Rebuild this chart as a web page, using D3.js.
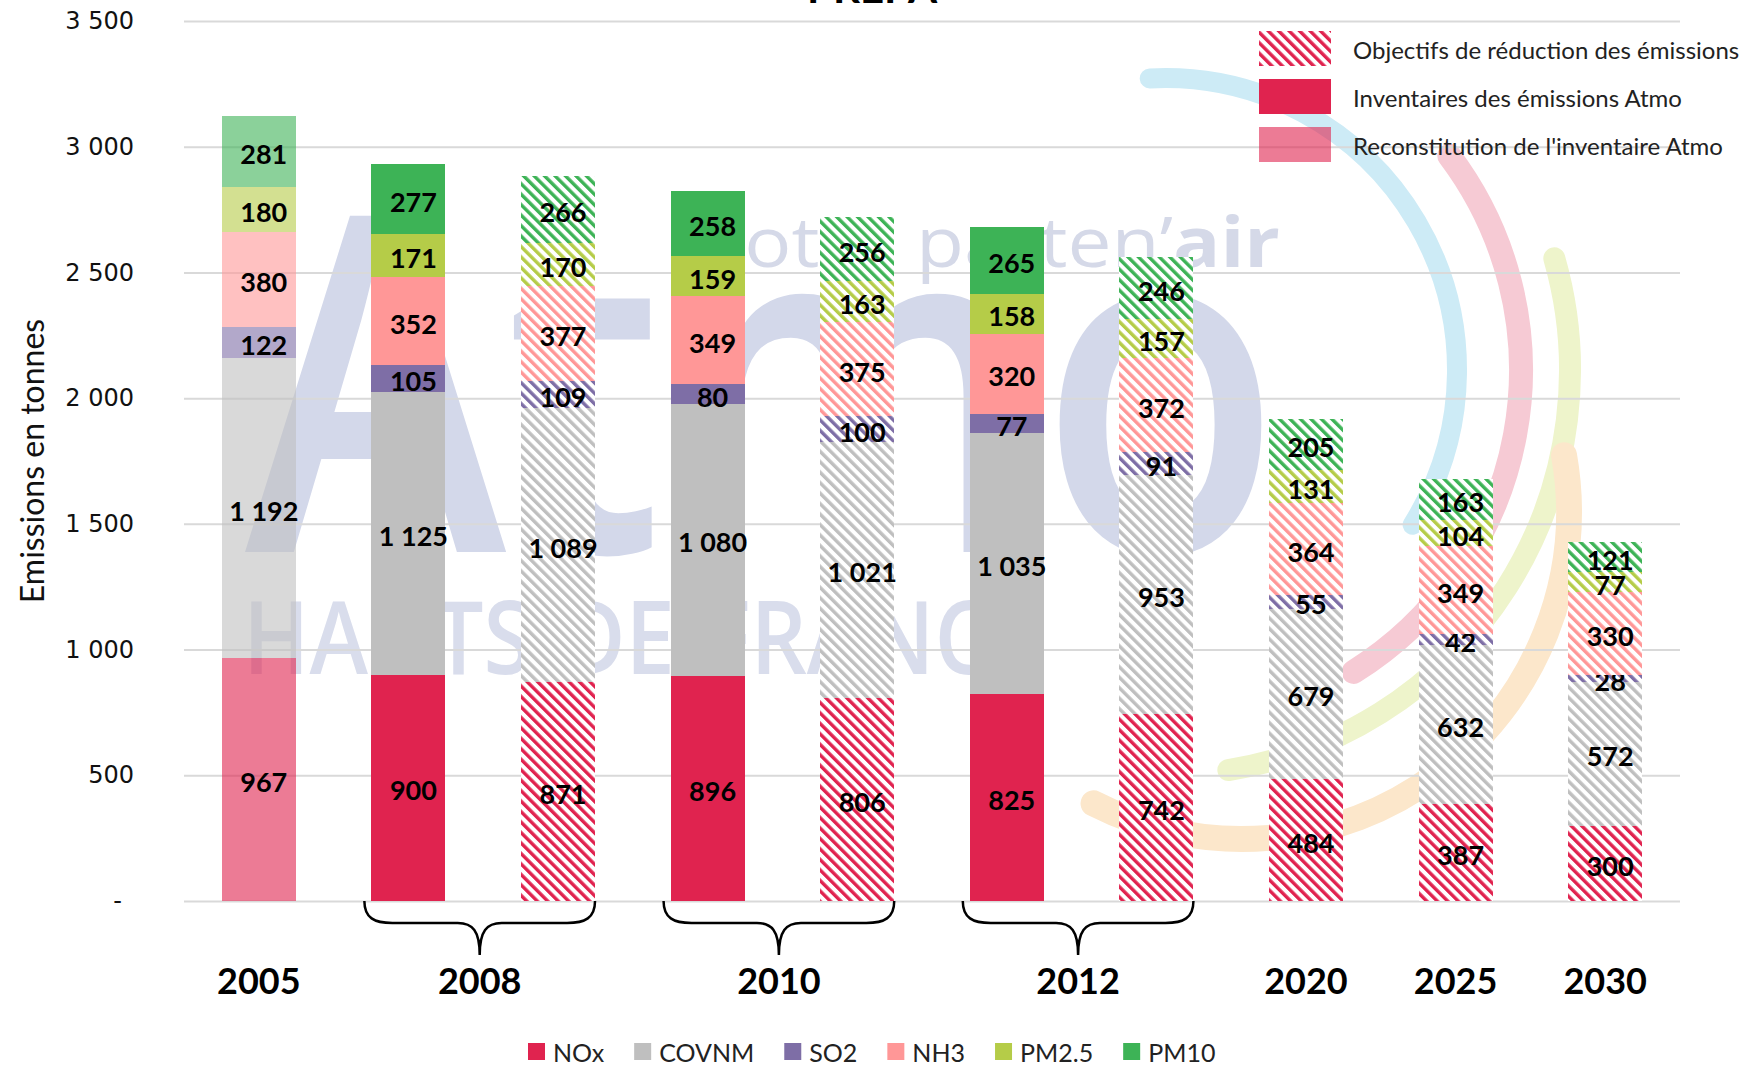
<!DOCTYPE html>
<html>
<head>
<meta charset="utf-8">
<script src="https://cdn.jsdelivr.net/npm/d3@7"></script>
<style>
  body { margin: 0; background: #fff; }
  svg { display: block; font-family: Lato, "Open Sans", sans-serif; }
</style>
</head>
<body>
<div id="chart"></div>
<script>
var width = 1747, height = 1067;
var margin = {top: 21, right: 67, bottom: 166, left: 184};

// polluants, bas -> haut de la pile
var pollutants = ["NOx", "COVNM", "SO2", "NH3", "PM2.5", "PM10"];
var colors = ["#e0234f", "#bfbfbf", "#7e6ea6", "#ff9797", "#b5cc48", "#3db356"];

// une barre par entrée : inventaire (inv), objectif (obj), reconstitution (recon)
var bars = ["2005", "2008 inv", "2008 obj", "2010 inv", "2010 obj", "2012 inv", "2012 obj", "2020", "2025", "2030"];
var barTypes = ["recon", "inv", "obj", "inv", "obj", "inv", "obj", "obj", "obj", "obj"];

var nox   = [967, 900, 871, 896, 806, 825, 742, 484, 387, 300];
var covnm = [1192, 1125, 1089, 1080, 1021, 1035, 953, 679, 632, 572];
var so2   = [122, 105, 109, 80, 100, 77, 91, 55, 42, 28];
var nh3   = [380, 352, 377, 349, 375, 320, 372, 364, 349, 330];
var pm25  = [180, 171, 170, 159, 163, 158, 157, 131, 104, 77];
var pm10  = [281, 277, 266, 258, 256, 265, 246, 205, 163, 121];

var years = ["2005", "2008", "2010", "2012", "2020", "2025", "2030"];
var yearBars = [["2005"], ["2008 inv", "2008 obj"], ["2010 inv", "2010 obj"], ["2012 inv", "2012 obj"], ["2020"], ["2025"], ["2030"]];

var yTicks = [0, 500, 1000, 1500, 2000, 2500, 3000, 3500];

var legendTypes = ["obj", "inv", "recon"];
var legendLabels = ["Objectifs de réduction des émissions", "Inventaires des émissions Atmo", "Reconstitution de l'inventaire Atmo"];

var fr = d3.formatLocale({decimal: ",", thousands: " ", grouping: [3], currency: ["", " €"]});
var fmt = fr.format(",d");

var rows = bars.map(function(b, i) {
    return {bar: b, type: barTypes[i], "NOx": nox[i], "COVNM": covnm[i], "SO2": so2[i],
            "NH3": nh3[i], "PM2.5": pm25[i], "PM10": pm10[i]};
});
var series = d3.stack().keys(pollutants)(rows);

var svg = d3.select("#chart").append("svg")
    .attr("width", width)
    .attr("height", height);

var x = d3.scaleBand()
    .domain(bars)
    .range([margin.left, width - margin.right])
    .paddingInner(0.505)
    .paddingOuter(0.2525);

var y = d3.scaleLinear()
    .domain([0, 3500])
    .range([height - margin.bottom, margin.top]);

// motifs hachurés
var defs = svg.append("defs");
pollutants.forEach(function(p, i) {
    var pat = defs.append("pattern")
        .attr("id", "hatch" + i)
        .attr("patternUnits", "userSpaceOnUse")
        .attr("width", 7.4)
        .attr("height", 7.4)
        .attr("patternTransform", "rotate(-45)");
    pat.append("rect").attr("width", 7.4).attr("height", 7.4).attr("fill", "#fff");
    pat.append("rect").attr("width", 3.4).attr("height", 7.4).attr("fill", colors[i]);
});

// filigrane Atmo
var wm = svg.append("g").attr("class", "watermark");

function arcPath(cx, cy, r, a0, a1) {
    var p = d3.path();
    var rad = Math.PI / 180;
    p.arc(cx, cy, r, (a0 - 90) * rad, (a1 - 90) * rad);
    return p.toString();
}
var arcs = [
    {cx: 1165, cy: 370, r: 292, a0: -3, a1: 122, w: 20, c: "#cdebf6"},
    {cx: 1165, cy: 370, r: 356, a0: 53, a1: 148, w: 24, c: "#f6cad4"},
    {cx: 1165, cy: 370, r: 405, a0: 74, a1: 171, w: 22, c: "#eef4cb"},
    {cx: 1242, cy: 512, r: 327, a0: 80, a1: 207, w: 26, c: "#fce7cb"}
];
wm.selectAll("path")
    .data(arcs)
    .enter()
    .append("path")
        .attr("d", function(d) { return arcPath(d.cx, d.cy, d.r, d.a0, d.a1); })
        .attr("fill", "none")
        .attr("stroke", function(d) { return d.c; })
        .attr("stroke-width", function(d) { return d.w; })
        .attr("stroke-linecap", "round");

wm.append("text")
    .attr("x", 245)
    .attr("y", 552)
    .attr("textLength", 1036)
    .attr("lengthAdjust", "spacingAndGlyphs")
    .style("font-family", "'Open Sans'")
    .style("font-weight", 600)
    .style("font-size", "469px")
    .attr("fill", "#d3d8ea")
    .text("Atmo");

wm.append("text")
    .attr("x", 243)
    .attr("y", 674)
    .attr("textLength", 797)
    .attr("lengthAdjust", "spacingAndGlyphs")
    .style("font-family", "'Open Sans'")
    .style("font-weight", 600)
    .style("font-size", "101px")
    .attr("fill", "#d9ddec")
    .text("HAUTS-DE-FRANCE");

var vp = wm.append("text")
    .attr("x", 705)
    .attr("y", 267)
    .attr("textLength", 575)
    .attr("lengthAdjust", "spacingAndGlyphs")
    .style("font-family", "'Open Sans'")
    .style("font-size", "70px")
    .attr("fill", "#d5d9e8");
vp.append("tspan").text("votre parten\u2019");
vp.append("tspan").style("font-weight", 700).text("air");

// grille + axe y
var yAxis = svg.append("g")
    .attr("transform", "translate(" + margin.left + ",0)")
    .call(d3.axisLeft(y)
        .tickValues(yTicks)
        .tickSizeInner(-(width - margin.left - margin.right))
        .tickSizeOuter(0)
        .tickPadding(50)
        .tickFormat(function(d) { return d === 0 ? "-" : fmt(d); }));
yAxis.select(".domain").remove();
yAxis.selectAll(".tick line")
    .attr("stroke", "#d9d9d9")
    .attr("stroke-width", 2);
yAxis.selectAll(".tick text")
    .style("font-family", "'DejaVu Sans'")
    .style("font-size", "24px")
    .attr("fill", "#111")
    .attr("dx", function(d) { return d === 0 ? -12 : 0; });

svg.append("text")
    .attr("transform", "translate(31," + y(1750) + ") rotate(-90)")
    .style("text-anchor", "middle")
    .attr("dominant-baseline", "central")
    .style("font-size", "32px")
    .attr("fill", "#111")
    .text("Emissions en tonnes");

// titre (coupé en haut)
svg.append("text")
    .attr("x", 872)
    .attr("y", 3)
    .style("text-anchor", "middle")
    .style("font-size", "42px")
    .style("font-weight", 700)
    .text("PREPA");

// barres empilées
function fillFor(d, i) {
    if (d.data.type === "obj") return "url(#hatch" + i + ")";
    return colors[i];
}
var layers = svg.append("g")
    .selectAll("g")
    .data(series)
    .enter()
    .append("g");

layers.selectAll("rect")
    .data(function(s) { return s.map(function(d) { d.idx = s.index; return d; }); })
    .enter()
    .append("rect")
        .attr("x", function(d) { return x(d.data.bar); })
        .attr("y", function(d) { return y(d[1]); })
        .attr("width", x.bandwidth())
        .attr("height", function(d) { return y(d[0]) - y(d[1]); })
        .attr("fill", function(d) { return fillFor(d, d.idx); })
        .attr("fill-opacity", function(d) { return d.data.type === "recon" ? 0.6 : 1; })
        .attr("shape-rendering", "crispEdges");

// étiquettes de valeurs
layers.selectAll("text")
    .data(function(s) { return s; })
    .enter()
    .append("text")
        .attr("x", function(d) { return x(d.data.bar) + x.bandwidth() / 2 + 5; })
        .attr("y", function(d) { return y((d[0] + d[1]) / 2) + 2; })
        .style("text-anchor", "middle")
        .attr("dominant-baseline", "central")
        .style("font-size", "27px")
        .style("font-weight", 700)
        .attr("fill", "#000")
        .text(function(d) { return fmt(d[1] - d[0]); });

// accolades et années
var y0 = y(0);
yearBars.forEach(function(g, i) {
    var xL = x(g[0]), xR = x(g[g.length - 1]) + x.bandwidth();
    var xm = (xL + xR) / 2;
    if (g.length > 1) {
        xL -= 7;
        xm = (xL + xR) / 2;
        var p = d3.path();
        p.moveTo(xL, y0);
        p.bezierCurveTo(xL, y0 + 17, xL + 10, y0 + 22, xL + 28, y0 + 22);
        p.lineTo(xm - 22, y0 + 22);
        p.bezierCurveTo(xm - 7, y0 + 22, xm, y0 + 30, xm, y0 + 54);
        p.bezierCurveTo(xm, y0 + 30, xm + 7, y0 + 22, xm + 22, y0 + 22);
        p.lineTo(xR - 28, y0 + 22);
        p.bezierCurveTo(xR - 10, y0 + 22, xR, y0 + 17, xR, y0);
        svg.append("path")
            .attr("d", p.toString())
            .attr("fill", "none")
            .attr("stroke", "#000")
            .attr("stroke-width", 2.5);
    }
    svg.append("text")
        .attr("x", xm)
        .attr("y", 994)
        .style("text-anchor", "middle")
        .style("font-size", "36px")
        .style("font-weight", 700)
        .text(years[i]);
});

// légende du type de barre
var leg = svg.append("g");
legendTypes.forEach(function(t, i) {
    var ly = 31 + i * 48;
    leg.append("rect")
        .attr("x", 1259)
        .attr("y", ly)
        .attr("width", 72)
        .attr("height", 35)
        .attr("fill", t === "obj" ? "url(#hatch0)" : colors[0])
        .attr("fill-opacity", t === "recon" ? 0.6 : 1);
    leg.append("text")
        .attr("x", 1353)
        .attr("y", ly + 18)
        .attr("dominant-baseline", "central")
        .style("font-size", "24px")
        .attr("fill", "#222")
        .text(legendLabels[i]);
});

// légende des polluants
var bx = 528;
pollutants.forEach(function(p, i) {
    svg.append("rect")
        .attr("x", bx)
        .attr("y", 1043)
        .attr("width", 17)
        .attr("height", 17)
        .attr("fill", colors[i]);
    var t = svg.append("text")
        .attr("x", bx + 25)
        .attr("y", 1052)
        .attr("dominant-baseline", "central")
        .style("font-size", "25px")
        .attr("fill", "#222")
        .text(p);
    bx += 25 + t.node().getComputedTextLength() + 30;
});
</script>
</body>
</html>
